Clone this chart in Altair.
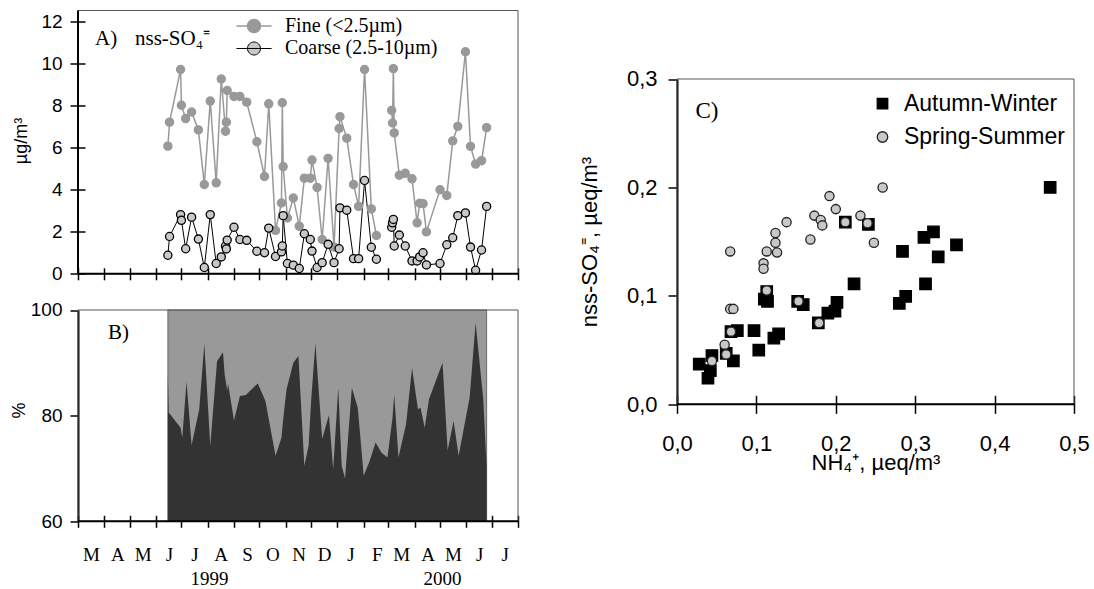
import altair as alt
import pandas as pd

# ---------------- Panel A: nss-SO4 fine / coarse (ug/m3) ----------------
a_dates = ["1999-06-15", "1999-06-17", "1999-06-30", "1999-07-01", "1999-07-06", "1999-07-13",
           "1999-07-21", "1999-07-28", "1999-08-04", "1999-08-11", "1999-08-17", "1999-08-22",
           "1999-08-23", "1999-08-24", "1999-09-01", "1999-09-08", "1999-09-16", "1999-09-28",
           "1999-10-07", "1999-10-12", "1999-10-20", "1999-10-27", "1999-10-28", "1999-10-29",
           "1999-11-03", "1999-11-10", "1999-11-17", "1999-11-23", "1999-11-30", "1999-12-02",
           "1999-12-08", "1999-12-14", "1999-12-21", "1999-12-28", "2000-01-03", "2000-01-04",
           "2000-01-12", "2000-01-20", "2000-01-26", "2000-02-02", "2000-02-10", "2000-02-16",
           "2000-03-05", "2000-03-06", "2000-03-07", "2000-03-08", "2000-03-14", "2000-03-21",
           "2000-03-29", "2000-04-04", "2000-04-07", "2000-04-11", "2000-04-15", "2000-05-01",
           "2000-05-09", "2000-05-16", "2000-05-22", "2000-05-31", "2000-06-06", "2000-06-12",
           "2000-06-19", "2000-06-25"]
fine_vals = [6.06, 7.2, 9.7, 8.0, 7.37, 7.68, 6.83, 4.24, 8.2, 4.32, 9.25, 6.77, 7.2, 8.7,
             8.42, 8.42, 8.15, 6.27, 4.62, 8.07, 2.06, 3.36, 8.12, 5.09, 2.65, 3.6, 2.26, 4.54,
             4.54, 5.4, 4.1, 1.63, 5.48, 1.27, 6.9, 7.46, 6.44, 4.24, 3.2, 9.7, 3.08, 1.82,
             7.76, 7.16, 9.74, 6.69, 4.68, 4.77, 4.51, 2.42, 3.35, 3.33, 1.99, 3.99, 3.72, 6.31,
             7.0, 10.54, 6.05, 5.21, 5.37, 6.94]
coarse_vals = [0.88, 1.77, 2.81, 2.54, 1.19, 2.69, 1.65, 0.3, 2.81, 0.49, 0.8, 1.32, 1.18, 1.6,
               2.21, 1.63, 1.59, 1.07, 1.0, 2.17, 0.82, 1.04, 1.32, 2.76, 0.49, 0.41, 0.25, 1.9,
               1.63, 1.08, 0.3, 0.53, 1.4, 0.53, 1.19, 3.13, 3.02, 0.72, 0.72, 4.43, 1.26, 0.69,
               2.21, 2.42, 2.58, 1.32, 1.84, 1.32, 0.61, 0.61, 0.8, 1.0, 0.42, 0.49, 1.38, 1.71,
               2.76, 2.89, 1.27, 0.17, 1.13, 3.2]
gap_start = "2000-03-01"  # sampling gap (lines are broken here)
SER_FINE = "Fine (<2.5µm)"
SER_COARSE = "Coarse (2.5-10µm)"
series_names = [SER_FINE, SER_COARSE]

# ---------------- Panel B: fine fraction (%) ----------------
b_dates = ["1999-06-15", "1999-06-16", "1999-06-30", "1999-07-02", "1999-07-07", "1999-07-13",
           "1999-07-22", "1999-07-28", "1999-08-04", "1999-08-12", "1999-08-19", "1999-08-21",
           "1999-08-24", "1999-08-25", "1999-09-01", "1999-09-08", "1999-09-15", "1999-09-29",
           "1999-10-08", "1999-10-20", "1999-10-27", "1999-10-29", "1999-11-02", "1999-11-10",
           "1999-11-16", "1999-11-23", "1999-11-28", "1999-12-01", "1999-12-06", "1999-12-14",
           "1999-12-22", "1999-12-27", "2000-01-02", "2000-01-06", "2000-01-10", "2000-01-18",
           "2000-01-25", "2000-02-01", "2000-02-08", "2000-02-15", "2000-02-22", "2000-02-29",
           "2000-03-06", "2000-03-08", "2000-03-13", "2000-03-22", "2000-03-29", "2000-04-05",
           "2000-04-08", "2000-04-13", "2000-04-18", "2000-05-04", "2000-05-10", "2000-05-17",
           "2000-05-23", "2000-06-05", "2000-06-12", "2000-06-21", "2000-06-25"]
b_pct = [87.95, 80.6, 77.7, 75.8, 86.4, 74.4, 81.2, 93.6, 74.3, 90.3, 92.0, 87.8, 84.7, 86.1,
         79.1, 83.7, 83.9, 86.1, 82.8, 72.4, 75.8, 79.3, 85.0, 90.0, 91.3, 70.5, 74.3, 82.8,
         93.7, 75.6, 80.1, 69.8, 85.3, 70.5, 68.1, 85.3, 81.5, 68.6, 71.4, 74.9, 73.0, 72.1,
         79.6, 84.0, 72.1, 78.4, 89.0, 81.2, 81.5, 77.7, 83.1, 90.0, 73.4, 79.0, 72.4, 83.5,
         97.6, 83.1, 70.2]
bg_dates = ["1999-06-15", "2000-06-25"]
bg_pct = [100, 100]
year_dates = ["1999-08-03", "2000-05-04"]
year_labels = ["1999", "2000"]

# time axis range and month tick positions (year, month)
axis_start, axis_end = "1999-03-01", "2000-08-01"
month_ticks = [(1999, 3), (1999, 4), (1999, 5), (1999, 6), (1999, 7), (1999, 8), (1999, 9),
               (1999, 10), (1999, 11), (1999, 12), (2000, 1), (2000, 2), (2000, 3), (2000, 4),
               (2000, 5), (2000, 6), (2000, 7), (2000, 8)]

# ---------------- Panel C: scatter ----------------
aw_x = [0.028, 0.039, 0.042, 0.044, 0.071, 0.076, 0.068, 0.097, 0.103, 0.110, 0.113, 0.114,
        0.122, 0.128, 0.152, 0.159, 0.178, 0.190, 0.199, 0.2015, 0.223, 0.212, 0.241, 0.280,
        0.288, 0.284, 0.311, 0.323, 0.313, 0.329, 0.352, 0.470, 0.062]
aw_y = [0.037, 0.024, 0.031, 0.045, 0.040, 0.068, 0.067, 0.068, 0.050, 0.097, 0.104, 0.095,
        0.061, 0.065, 0.095, 0.092, 0.075, 0.084, 0.086, 0.094, 0.111, 0.168, 0.166, 0.093,
        0.0995, 0.141, 0.154, 0.159, 0.111, 0.136, 0.147, 0.200, 0.047]
ss_x = [0.044, 0.060, 0.062, 0.067, 0.067, 0.071, 0.068, 0.109, 0.109, 0.113, 0.113, 0.124,
        0.124, 0.126, 0.138, 0.153, 0.168, 0.173, 0.179, 0.181, 0.183, 0.192, 0.200, 0.212,
        0.231, 0.240, 0.248, 0.259]
ss_y = [0.040, 0.055, 0.046, 0.141, 0.088, 0.088, 0.067, 0.130, 0.125, 0.141, 0.105, 0.158,
        0.149, 0.140, 0.168, 0.095, 0.152, 0.174, 0.075, 0.170, 0.165, 0.192, 0.180, 0.168,
        0.174, 0.167, 0.149, 0.200]
seasons = ["Autumn-Winter", "Spring-Summer"]

# ---------------- frames ----------------
n_a = len(a_dates)
df_a = pd.DataFrame({
    "date": a_dates + a_dates,
    "val": fine_vals + coarse_vals,
    "series": [SER_FINE] * n_a + [SER_COARSE] * n_a,
})
df_a["seg"] = (df_a["date"] >= gap_start).astype(int)
df_b = pd.DataFrame({"date": b_dates, "pct": b_pct})
df_bg = pd.DataFrame({"date": bg_dates, "pct": bg_pct})
df_years = pd.DataFrame({"date": year_dates, "label": year_labels})
df_c = pd.DataFrame({
    "nh4": aw_x + ss_x,
    "so4": aw_y + ss_y,
    "season": [seasons[0]] * len(aw_x) + [seasons[1]] * len(ss_x),
})
frame_a = pd.DataFrame({"date": [axis_start], "date2": [axis_end], "val": [12.5], "val2": [0]})
frame_b = pd.DataFrame({"date": [axis_start], "date2": [axis_end], "pct": [100], "pct2": [60]})
frame_c = pd.DataFrame({"nh4": [0.0], "nh4b": [0.5], "so4": [0.3], "so4b": [0.0]})
base_a = pd.DataFrame({"val": [0]})
base_b = pd.DataFrame({"pct": [60]})
base_c = pd.DataFrame({"so4": [0.0]})

SERIF = "Liberation Serif"
SANS = "Liberation Sans"
BORDER = "#555555"

# left column: panel A on top of panel B, one tall view with two y ranges
W_L = 440
A_BOTTOM = 263.3
B_TOP, B_BOTTOM = 299.5, 510.8
H_L = B_BOTTOM
# right column: panel C
W_C = 397
C_TOP, C_BOTTOM = 68.5, 393.8

tick_vals = [alt.DateTime(year=y, month=m, date=1, utc=True) for y, m in month_ticks]
t_scale = alt.Scale(type="utc", domain=[tick_vals[0], tick_vals[-1]])

# ---------------- Panel A ----------------
xA = alt.X("date:T", scale=t_scale,
           axis=alt.Axis(values=tick_vals, labels=False, domain=False, tickSize=12, orient="bottom",
                         offset=-(H_L - A_BOTTOM) - 6, title=None, grid=False))
yA_scale = alt.Scale(domain=[0, 12.5], nice=False, range=[A_BOTTOM, 0])
yA = alt.Y("val:Q", scale=yA_scale,
           axis=alt.Axis(values=[0, 2, 4, 6, 8, 10, 12], title="µg/m³", titleFontSize=18,
                         orient="left", domain=False, offset=-7, tickSize=15, labelPadding=8,
                         titleX=-64, titleY=130, titleAngle=270, titleBaseline="middle",
                         titleAlign="center", labelFontSize=19))

stroke_scale = alt.Scale(domain=series_names, range=["#999999", "#000000"])
fill_scale = alt.Scale(domain=series_names, range=["#999999", "#c8c8c8"])
LEG_PATH = "M-2.7,0H2.7M1,0A1,1,0,1,1,-1,0A1,1,0,1,1,1,0Z"
legA = alt.Legend(title=None, orient="none", legendX=166, legendY=5.5, direction="vertical",
                  symbolType=LEG_PATH, symbolSize=169, symbolStrokeWidth=1.8,
                  labelFont=SERIF, labelFontSize=20, labelColor="black", labelOffset=21,
                  labelLimit=400, rowPadding=2.5, padding=0)

a_base = alt.Chart(df_a)
a_lines = a_base.mark_line().encode(
    x=xA, y=yA,
    stroke=alt.Stroke("series:N", scale=stroke_scale, legend=legA),
    strokeWidth=alt.StrokeWidth("series:N", scale=alt.Scale(domain=series_names, range=[1.5, 1.0]),
                                legend=None),
    detail="seg:N",
)
a_points = a_base.mark_point(shape="circle", filled=True, opacity=1, size=66, strokeWidth=1.3).encode(
    x=xA, y=yA,
    fill=alt.Fill("series:N", scale=fill_scale, legend=legA),
    stroke=alt.Stroke("series:N", scale=stroke_scale, legend=legA),
)
a_axisline = alt.Chart(base_a).mark_rule(color="black", strokeWidth=2).encode(y=yA)
a_leftline = alt.Chart(frame_a).mark_rule(color="black", strokeWidth=2).encode(
    x=xA, y=yA, y2="val2:Q")
a_border = alt.Chart(frame_a).mark_rect(fill="white", fillOpacity=0, stroke=BORDER, strokeWidth=1).encode(
    x=xA, x2="date2:T", y=yA, y2="val2:Q")
a_lab1 = alt.Chart(pd.DataFrame({"t": ["A)"]})).mark_text(
    font=SERIF, fontSize=21, align="left", baseline="middle", color="black"
).encode(x=alt.value(17), y=alt.value(28.5), text="t:N")
a_lab2 = alt.Chart(pd.DataFrame({"t": ["nss-SO₄⁼"]})).mark_text(
    font=SERIF, fontSize=21, align="left", baseline="middle", color="black"
).encode(x=alt.value(57), y=alt.value(28.5), text="t:N")

layerA = alt.layer(a_lines, a_points, a_border, a_axisline, a_leftline, a_lab1, a_lab2)

# ---------------- Panel B ----------------
month_expr = ("utcyear(datum.value) == 2000 && utcmonth(datum.value) == 7 ? '' : "
              "substring(utcFormat(datum.value, '%b'), 0, 1)")
xB = alt.X("date:T", scale=t_scale,
           axis=alt.Axis(values=tick_vals, domain=False, tickSize=12, offset=-6, orient="bottom",
                         title=None, grid=False, labelExpr=month_expr, labelFont=SERIF,
                         labelFontSize=19, labelOffset=13, labelAlign="center", labelPadding=18,
                         labelFlush=False, labelOverlap=False, labelBound=False))
yB_scale = alt.Scale(domain=[60, 100], nice=False, zero=False, range=[B_BOTTOM, B_TOP])
yB = alt.Y("pct:Q", scale=yB_scale,
           axis=alt.Axis(values=[60, 80, 100], title="%", titleFontSize=18, titleX=-59,
                         titleY=B_TOP + 100, titleAngle=270, titleBaseline="middle",
                         titleAlign="center", orient="left", labelFontSize=19, tickSize=8,
                         labelPadding=8))

b_bg = alt.Chart(df_bg).mark_area(color="#999999", stroke="#555555", strokeWidth=0.8).encode(
    x=xB, y=yB, y2=alt.datum(60))
b_area = alt.Chart(df_b).mark_area(color="#333333").encode(x=xB, y=yB, y2=alt.datum(60))
b_axisline = alt.Chart(base_b).mark_rule(color="black", strokeWidth=2).encode(y=yB)
b_border = alt.Chart(frame_b).mark_rect(fill="white", fillOpacity=0, stroke=BORDER, strokeWidth=1).encode(
    x=xB, x2="date2:T", y=yB, y2="pct2:Q")
b_years = alt.Chart(df_years).mark_text(
    font=SERIF, fontSize=19, align="center", baseline="middle", color="black"
).encode(x=xB, y=alt.value(B_TOP + 269), text="label:N")
b_lab = alt.Chart(pd.DataFrame({"t": ["B)"]})).mark_text(
    font=SERIF, fontSize=21, align="left", baseline="middle", color="black"
).encode(x=alt.value(30), y=alt.value(B_TOP + 23), text="t:N")

layerB = alt.layer(b_bg, b_area, b_border, b_axisline, b_years, b_lab)

leftcol = alt.layer(layerA, layerB).resolve_scale(
    x="independent", y="independent"
).resolve_axis(x="independent", y="independent").properties(width=W_L, height=H_L)

# ---------------- Panel C ----------------
comma_expr = "replace(format(datum.value, '.1f'), '.', ',')"
xC = alt.X("nh4:Q", scale=alt.Scale(domain=[0, 0.5], nice=False),
           axis=alt.Axis(values=[0, 0.1, 0.2, 0.3, 0.4, 0.5], labelExpr=comma_expr, domain=False,
                         tickSize=18, offset=-(H_L - C_BOTTOM) - 9, labelFontSize=22,
                         labelPadding=20, labelFlush=False, title="NH₄⁺, µeq/m³",
                         titleFontSize=22, titleY=67, titleBaseline="middle"))
yC = alt.Y("so4:Q", scale=alt.Scale(domain=[0, 0.3], nice=False, range=[C_BOTTOM, C_TOP]),
           axis=alt.Axis(values=[0, 0.1, 0.2, 0.3], labelExpr=comma_expr, tickSize=9,
                         labelPadding=11, labelFontSize=22, title="nss-SO₄⁼, µeq/m³",
                         titleFontSize=22, titleX=-87, titleY=C_TOP + 162.5, titleAngle=270,
                         titleBaseline="middle", titleAlign="center"))
legC = alt.Legend(title=None, orient="none", legendX=194, legendY=C_TOP + 13.2, direction="vertical",
                  symbolSize=110, symbolStrokeWidth=1.3, labelFont=SANS, labelFontSize=23,
                  labelColor="black", labelOffset=10, labelLimit=400, rowPadding=9.3, padding=0)
c_enc = dict(
    x=xC, y=yC,
    shape=alt.Shape("season:N", scale=alt.Scale(domain=seasons, range=["square", "circle"]), legend=legC),
    fill=alt.Fill("season:N", scale=alt.Scale(domain=seasons, range=["#000000", "#c8c8c8"]), legend=legC),
    stroke=alt.Stroke("season:N", scale=alt.Scale(domain=seasons, range=["#000000", "#222222"]), legend=legC),
)
c_squares = alt.Chart(df_c).transform_filter(alt.datum.season == seasons[0]).mark_point(
    filled=True, opacity=1, strokeWidth=1.3, size=130).encode(**c_enc)
c_circles = alt.Chart(df_c).transform_filter(alt.datum.season == seasons[1]).mark_point(
    filled=True, opacity=1, strokeWidth=1.3, size=85).encode(**c_enc)
c_axisline = alt.Chart(base_c).mark_rule(color="black", strokeWidth=2).encode(y=yC)
c_border = alt.Chart(frame_c).mark_rect(fill="white", fillOpacity=0, stroke=BORDER, strokeWidth=1).encode(
    x=xC, x2="nh4b:Q", y=yC, y2="so4b:Q")
c_lab = alt.Chart(pd.DataFrame({"t": ["C)"]})).mark_text(
    font=SERIF, fontSize=23, align="left", baseline="middle", color="black"
).encode(x=alt.value(18.5), y=alt.value(C_TOP + 32), text="t:N")

panelC = alt.layer(c_squares, c_circles, c_border, c_axisline, c_lab).properties(width=W_C, height=H_L)

chart = alt.hconcat(leftcol, panelC, spacing=159, bounds="flush").resolve_scale(
    fill="independent", stroke="independent", shape="independent", strokeWidth="independent"
).resolve_legend(
    fill="independent", stroke="independent", shape="independent", strokeWidth="independent"
).properties(
    padding={"left": 9, "top": 8.5, "right": 0, "bottom": 0},
    background="white",
).configure_view(
    stroke="transparent"
).configure_axis(
    domainColor="black", domainWidth=2, tickColor="black", tickWidth=1.5, grid=False,
    labelColor="black", titleColor="black", labelFont=SANS, titleFont=SANS,
    titleFontWeight="normal",
)

chart.save("out.html", embed_options={"renderer": "svg", "actions": False})
